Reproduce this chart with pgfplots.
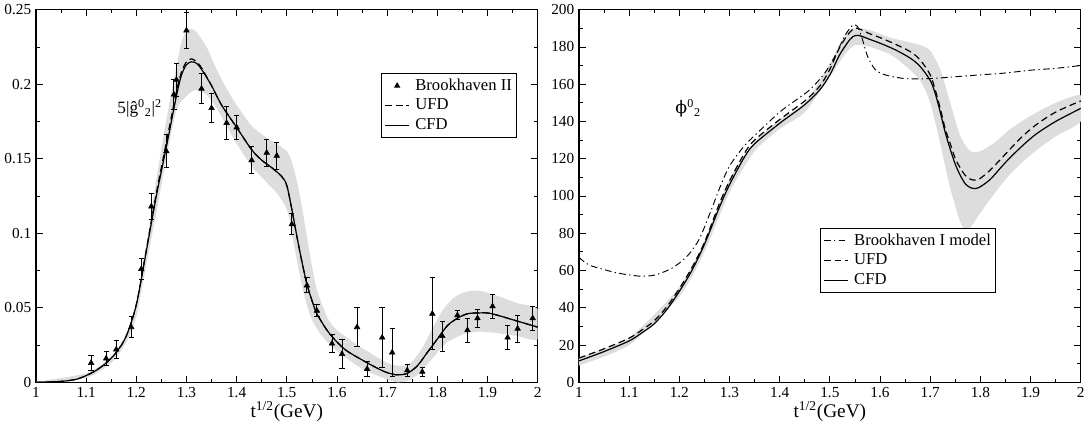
\documentclass[border=0pt]{standalone}
\usepackage{fontspec}
\setmainfont{Liberation Serif}
\newfontfamily\greekserif{DejaVu Serif}
\usepackage{pgfplots}
\pgfplotsset{compat=1.18}
\definecolor{band}{RGB}{221,221,221}

\pgfplotsset{
  grace/.style={
    scale only axis,
    width=377pt, height=280pt,
    xmin=1, xmax=2,
    xtick={1,1.1,...,2.01},
    minor x tick num=1, minor y tick num=1,
    major tick length=5pt, minor tick length=2.7pt,
    tick style={line width=0.6pt, black},
    axis line style={line width=1pt},
    tick label style={font=\fontsize{11.5}{12}\selectfont},
    label style={font=\fontsize{14.5}{15}\selectfont},
    /pgf/number format/assume math mode=true,
    /pgf/number format/fixed,
    /pgf/number format/precision=2,
    xlabel={t\textsuperscript{1/2}(GeV)},
    xlabel style={yshift=4pt},
    legend cell align=left,
    legend style={font=\fontsize{12.5}{13}\selectfont, draw=black, line width=0.7pt,
      inner sep=2pt, row sep=1pt,
      nodes={inner sep=1.2pt, text height=9pt, text depth=2.5pt},
      /tikz/every odd column/.append style={column sep=3pt}},
  },
  seglegend/.style={legend image code/.code={\draw[#1] (0pt,0pt) -- (18pt,0pt);}},
  dotlegend/.style={legend image code/.code={\draw[#1] plot coordinates {(9pt,0pt)};}},
  ufd/.style={black, line width=0.9pt, dash pattern=on 5pt off 3pt},
  cfd/.style={black, line width=0.9pt},
  bnl/.style={black, line width=0.7pt, dash pattern=on 5pt off 2.5pt on 1pt off 2.5pt},
}

\pgfplotstableread{
x y e
1.11 0.013 0.005
1.14 0.016 0.005
1.16 0.022 0.006
1.19 0.037 0.007
1.21 0.076 0.007
1.23 0.118 0.009
1.26 0.155 0.011
1.275 0.193 0.010
1.28 0.203 0.011
1.30 0.236 0.012
1.33 0.197 0.010
1.35 0.184 0.010
1.38 0.174 0.011
1.40 0.171 0.008
1.43 0.149 0.009
1.46 0.154 0.009
1.48 0.152 0.009
1.51 0.106 0.007
1.54 0.065 0.005
1.56 0.048 0.004
1.59 0.026 0.006
1.61 0.019 0.010
1.64 0.037 0.013
1.66 0.009 0.005
1.69 0.030 0.020
1.71 0.020 0.016
1.74 0.008 0.004
1.77 0.007 0.003
1.79 0.046 0.024
1.81 0.031 0.010
1.84 0.045 0.003
1.86 0.035 0.008
1.88 0.043 0.006
1.91 0.051 0.008
1.94 0.030 0.008
1.96 0.036 0.009
1.99 0.043 0.008
}\bnltwo

\pgfplotstableread{
x y
1.00 0.000
1.05 0.0006
1.08 0.002
1.10 0.0045
1.12 0.008
1.14 0.013
1.16 0.020
1.18 0.031
1.20 0.052
1.22 0.088
1.24 0.125
1.26 0.158
1.28 0.192
1.29 0.206
1.30 0.213
1.31 0.215
1.32 0.214
1.33 0.210
1.35 0.199
1.37 0.186
1.40 0.171
1.43 0.156
1.45 0.149
1.47 0.144
1.49 0.138
1.50 0.132
1.51 0.116
1.52 0.098
1.53 0.081
1.54 0.066
1.55 0.055
1.56 0.046
1.58 0.035
1.60 0.027
1.62 0.021
1.65 0.015
1.68 0.0095
1.70 0.0065
1.72 0.005
1.74 0.006
1.76 0.011
1.78 0.020
1.80 0.029
1.82 0.038
1.84 0.043
1.86 0.046
1.88 0.0465
1.90 0.0465
1.92 0.045
1.95 0.042
1.98 0.039
2.00 0.037
}\cfdmod

\pgfplotstableread{
x y
1.00 0.000
1.05 0.0006
1.08 0.002
1.10 0.0045
1.12 0.008
1.14 0.013
1.16 0.020
1.18 0.031
1.20 0.052
1.22 0.089
1.24 0.127
1.26 0.161
1.28 0.195
1.29 0.208
1.30 0.215
1.31 0.217
1.32 0.215
1.33 0.211
1.35 0.199
1.37 0.186
1.40 0.171
1.43 0.156
1.45 0.149
1.47 0.144
1.49 0.138
1.50 0.132
1.51 0.116
1.52 0.098
1.53 0.081
1.54 0.066
1.55 0.055
1.56 0.046
1.58 0.035
1.60 0.027
1.62 0.021
1.65 0.015
1.68 0.0095
1.70 0.0065
1.72 0.005
1.74 0.006
1.76 0.011
1.78 0.020
1.80 0.029
1.82 0.038
1.84 0.043
1.86 0.046
1.88 0.0465
1.90 0.0465
1.92 0.045
1.95 0.042
1.98 0.039
2.00 0.037
}\ufdmod

% error band of the left panel: upper edge left to right, lower edge back
\pgfplotstableread{
x y
1.00 0.0005
1.10 0.006
1.15 0.017
1.18 0.032
1.20 0.052
1.22 0.092
1.24 0.136
1.26 0.176
1.28 0.212
1.29 0.228
1.30 0.236
1.31 0.237
1.32 0.235
1.34 0.225
1.36 0.210
1.38 0.197
1.40 0.186
1.43 0.172
1.46 0.164
1.48 0.160
1.50 0.155
1.51 0.148
1.52 0.135
1.53 0.118
1.54 0.098
1.55 0.078
1.56 0.062
1.58 0.044
1.60 0.035
1.65 0.023
1.70 0.013
1.73 0.011
1.75 0.014
1.77 0.023
1.79 0.036
1.81 0.048
1.83 0.056
1.85 0.060
1.87 0.0615
1.89 0.061
1.92 0.058
1.96 0.053
2.00 0.049
2.00 0.029
1.96 0.031
1.92 0.033
1.88 0.034
1.85 0.032
1.82 0.027
1.80 0.020
1.78 0.012
1.76 0.005
1.74 0.001
1.72 0.000
1.70 0.002
1.65 0.009
1.60 0.021
1.57 0.031
1.55 0.042
1.54 0.052
1.53 0.065
1.52 0.082
1.51 0.100
1.50 0.116
1.48 0.127
1.46 0.134
1.43 0.145
1.40 0.160
1.38 0.172
1.36 0.184
1.34 0.193
1.32 0.196
1.31 0.195
1.30 0.192
1.28 0.183
1.26 0.150
1.24 0.114
1.22 0.079
1.20 0.044
1.18 0.027
1.15 0.013
1.10 0.003
1.00 0.000
}\bandmod

\pgfplotstableread{
x y
1.00 11.5
1.05 16.5
1.10 22.2
1.125 26.5
1.15 31.4
1.175 39
1.20 48.8
1.225 60
1.25 74
1.28 94
1.30 106
1.33 121
1.35 128
1.40 139
1.45 149
1.48 157
1.50 165
1.52 176
1.54 184
1.55 186
1.56 186
1.58 184
1.60 182
1.63 178.5
1.66 174
1.68 169.5
1.70 162
1.71 155
1.72 145
1.73 134
1.74 125
1.75 117
1.76 111
1.77 106.5
1.78 104.5
1.79 104
1.80 105
1.82 109
1.85 118
1.88 126
1.91 133
1.95 140
2.00 147
}\cfdphase

\pgfplotstableread{
x y
1.00 13
1.05 18
1.10 23.7
1.125 28
1.15 33
1.175 40.5
1.20 50.3
1.225 61.5
1.25 75
1.28 96
1.30 108
1.33 123
1.35 130
1.40 141
1.45 151
1.48 159
1.50 168
1.52 180
1.54 188
1.55 190
1.56 189.5
1.58 187
1.60 185
1.63 181.5
1.66 177.5
1.68 173
1.70 165
1.71 157
1.72 147
1.73 136
1.74 128
1.75 120
1.76 115
1.77 111
1.78 109
1.79 108.5
1.80 109.5
1.82 114
1.85 122.5
1.88 131
1.91 138
1.95 145
2.00 151
}\ufdphase

\pgfplotstableread{
x y
1.00 67
1.02 63
1.05 60.5
1.08 58.5
1.12 57
1.15 57.5
1.18 60.5
1.20 64
1.22 69
1.24 77
1.26 90
1.28 104
1.30 116
1.33 127
1.36 135
1.40 145
1.43 151
1.46 157
1.49 166
1.51 175
1.53 186
1.545 191.5
1.555 191
1.565 184
1.575 175
1.59 168
1.61 165
1.65 163
1.70 163
1.75 164
1.80 165
1.85 166
1.90 167.5
1.95 168.5
2.00 170
}\bnlone

\pgfplotstableread{
x y
1.00 13.5
1.10 24
1.20 51
1.25 76
1.30 109
1.35 129
1.40 141
1.45 150
1.50 171
1.53 186
1.55 190
1.58 189
1.62 185
1.65 183
1.68 181
1.70 178
1.72 168
1.74 150
1.76 132
1.78 124
1.80 124
1.83 129
1.86 136
1.90 143
1.95 150
2.00 154
2.00 140
1.95 132
1.90 122
1.86 112
1.83 102
1.80 91
1.78 83
1.77 82
1.76 86
1.74 104
1.72 128
1.70 150
1.68 162
1.65 170
1.62 176
1.58 180
1.55 181
1.53 176
1.50 164
1.45 145
1.40 136
1.35 124
1.30 102
1.25 70
1.20 46
1.10 20
1.00 9
}\bandphase

\begin{document}
\begin{tikzpicture}

\begin{axis}[grace,
  ymin=0, ymax=0.25,
  ytick={0,0.05,...,0.26},
  legend style={at={(0.958,0.829)}, anchor=north east},
]
\addlegendimage{dotlegend, only marks, mark=triangle*, mark size=2pt, black}
\addlegendentry{Brookhaven II}
\addlegendimage{seglegend, ufd}
\addlegendentry{UFD}
\addlegendimage{seglegend, cfd}
\addlegendentry{CFD}

\addplot[fill=band, draw=none, smooth, tension=0.4, forget plot] table {\bandmod} -- cycle;
\addplot[ufd, smooth, tension=0.5, forget plot] table {\ufdmod};
\addplot[cfd, smooth, tension=0.5, forget plot] table {\cfdmod};
\addplot[only marks, mark=triangle*, mark size=2.4pt, black, forget plot,
  error bars/.cd, y dir=both, y explicit,
  error bar style={line width=0.7pt},
  error mark options={rotate=90, mark size=2pt, line width=0.7pt}]
  table[x=x, y=y, y error=e] {\bnltwo};

\node[anchor=west, font=\fontsize{13}{14}\selectfont] at (axis cs:1.153,0.1837)
  {5|ĝ\textsuperscript{0}\textsubscript{2}|\textsuperscript{2}};
\end{axis}

\begin{axis}[grace, at={(408pt,0pt)},
  ymin=0, ymax=200,
  ytick={0,20,...,200},
  legend style={at={(0.481,0.413)}, anchor=north west},
]
\addlegendimage{seglegend, bnl}
\addlegendentry{Brookhaven I model}
\addlegendimage{seglegend, ufd}
\addlegendentry{UFD}
\addlegendimage{seglegend, cfd}
\addlegendentry{CFD}

\addplot[fill=band, draw=none, smooth, tension=0.4, forget plot] table {\bandphase} -- cycle;
\addplot[bnl, smooth, tension=0.5, forget plot] table {\bnlone};
\addplot[ufd, smooth, tension=0.5, forget plot] table {\ufdphase};
\addplot[cfd, smooth, tension=0.5, forget plot] table {\cfdphase};

\node[anchor=west, font=\fontsize{13}{14}\selectfont] at (axis cs:1.183,147)
  {{\greekserif ϕ}\textsuperscript{0}\textsubscript{2}};
\end{axis}

\end{tikzpicture}
\end{document}
